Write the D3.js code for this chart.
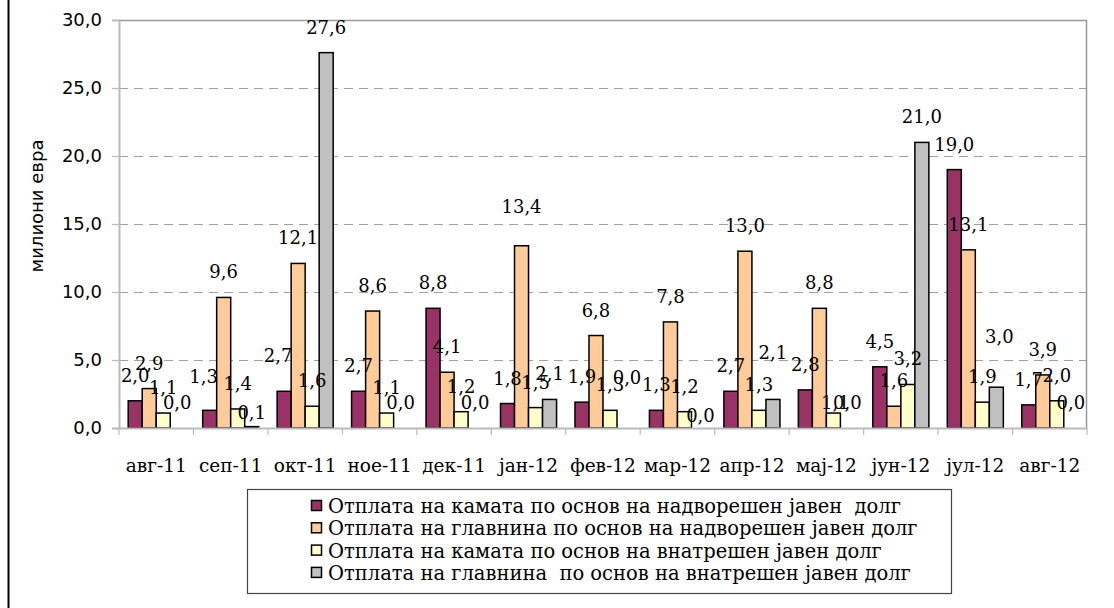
<!DOCTYPE html>
<html><head><meta charset="utf-8">
<script src="https://cdn.jsdelivr.net/npm/d3@7/dist/d3.min.js"></script>
<style>
html,body{margin:0;padding:0;background:#fff;}
svg{display:block;}
</style></head>
<body>
<svg id="chart" width="1114" height="608"></svg>
<script>
const categories = ["авг-11","сеп-11","окт-11","ное-11","дек-11","јан-12","фев-12","мар-12","апр-12","мај-12","јун-12","јул-12","авг-12"];
const seriesNames = [
  "Отплата на камата по основ на надворешен јавен  долг",
  "Отплата на главнина по основ на надворешен јавен долг",
  "Отплата на камата по основ на внатрешен јавен долг",
  "Отплата на главнина  по основ на внатрешен јавен долг"
];
const interestExternal = [2.0,1.3,2.7,2.7,8.8,1.8,1.9,1.3,2.7,2.8,4.5,19.0,1.7];
const principalExternal = [2.9,9.6,12.1,8.6,4.1,13.4,6.8,7.8,13.0,8.8,1.6,13.1,3.9];
const interestDomestic = [1.1,1.4,1.6,1.1,1.2,1.5,1.3,1.2,1.3,1.1,3.2,1.9,2.0];
const principalDomestic = [0.0,0.1,27.6,0.0,0.0,2.1,0.0,0.0,2.1,0.0,21.0,3.0,0.0];
const yTicks = [0,5,10,15,20,25,30];
const yTitle = "милиони евра";

// styling
const colors = ["#993366","#FFCC99","#FFFFCC","#C0C0C0"];
// label nudges (dx,dy) keyed "series:category"
const labelNudge = {"0:1":[-6,-8],"3:1":[0,11],"0:2":[-6,-10],"1:5":[0,-14],"3:6":[3,-25],"3:7":[2,13],"3:8":[0,-21],"2:9":[2,15],"3:11":[3,-25]};

const series = [interestExternal, principalExternal, interestDomestic, principalDomestic];
const svg = d3.select("#chart");
const serif = "'DejaVu Serif', serif";
const sans = "'DejaVu Sans', sans-serif";

const X0 = 119, X1 = 1087, Y0 = 20, Y1 = 428;
const x = d3.scaleBand().domain(categories).range([X0, X1]).padding(0);
const bw = x.bandwidth();
const xs = d3.scaleBand().domain(d3.range(4)).range([bw*0.1236, bw*0.8764]).padding(0);
const y = d3.scaleLinear().domain([0,30]).range([Y1, Y0]);
const fmt = v => d3.format(".1f")(v).replace(".", ",");

// left frame line
svg.append("line").attr("x1",8.5).attr("x2",8.5).attr("y1",0).attr("y2",608).attr("stroke","#000").attr("stroke-width",2);

// gridlines
svg.append("g").selectAll("line").data(yTicks.filter(t => t>0 && t<30)).join("line")
  .attr("x1",X0).attr("x2",X1).attr("y1",d=>Math.round(y(d))+0.5).attr("y2",d=>Math.round(y(d))+0.5)
  .attr("stroke","#a0a0a0").attr("stroke-width",1.2).attr("stroke-dasharray","9,6");

// plot border top/right
svg.append("path").attr("d",`M${X0},${Y0+0.5}H${X1-0.5}V${Y1}`).attr("fill","none").attr("stroke","#999").attr("stroke-width",1.5);

// y axis
const yAxis = svg.append("g").attr("transform",`translate(${X0},0)`)
  .call(d3.axisLeft(y).tickValues(yTicks).tickFormat(fmt).tickSize(7).tickPadding(10));
yAxis.select(".domain").attr("stroke","#bbb").attr("stroke-width",2);
yAxis.selectAll(".tick line").attr("stroke","#bbb").attr("stroke-width",1.2);
yAxis.selectAll("text").attr("font-family",sans).attr("font-size",18).attr("fill","#000");

// bars
const g = svg.append("g");
series.forEach((vals, si) => {
  g.append("g").selectAll("rect").data(vals).join("rect")
    .attr("x",(d,i)=>x(categories[i])+xs(si))
    .attr("width",xs.bandwidth())
    .attr("y",d=>y(d))
    .attr("height",d=>Math.max(0,Y1-y(d)))
    .attr("fill",colors[si]).attr("stroke","#000").attr("stroke-width",1.5);
});

// x axis
const xAxis = svg.append("g").attr("transform",`translate(0,${Y1})`)
  .call(d3.axisBottom(x).tickSize(0).tickPadding(31));
xAxis.select(".domain").attr("stroke","#bbb").attr("stroke-width",2);
xAxis.selectAll("text").attr("font-family",serif).attr("font-size",18.5).attr("fill","#000");
svg.append("g").selectAll("line").data(d3.range(categories.length+1)).join("line")
  .attr("x1",i=>X0+i*bw).attr("x2",i=>X0+i*bw).attr("y1",Y1).attr("y2",Y1+7)
  .attr("stroke","#bbb").attr("stroke-width",1.2);

// data labels
series.forEach((vals, si) => {
  g.append("g").selectAll("text").data(vals).join("text")
    .attr("x",(d,i)=>x(categories[i])+xs(si)+xs.bandwidth()/2 + ((labelNudge[si+":"+i]||[0,0])[0]))
    .attr("y",(d,i)=>y(d)-19 + ((labelNudge[si+":"+i]||[0,0])[1]))
    .attr("text-anchor","middle").attr("font-family",serif).attr("font-size",18).attr("fill","#000")
    .text(d=>fmt(d));
});

// y title
svg.append("text").attr("transform","translate(43,206) rotate(-90)").attr("text-anchor","middle")
  .attr("font-family",sans).attr("font-size",18).attr("fill","#000").text(yTitle);

// legend
const lg = svg.append("g");
lg.append("rect").attr("x",247.5).attr("y",489.5).attr("width",704).attr("height",104)
  .attr("fill","#fff").attr("stroke","#444").attr("stroke-width",1.2);
const rows = lg.selectAll("g.row").data(seriesNames).join("g").attr("class","row")
  .attr("transform",(d,i)=>`translate(311,${506+i*22.3})`);
rows.append("rect").attr("x",0.5).attr("y",-5.5).attr("width",10).attr("height",10)
  .attr("fill",(d,i)=>colors[i]).attr("stroke","#000").attr("stroke-width",1.5);
rows.append("text").attr("x",17).attr("y",7).attr("font-family",serif).attr("font-size",19.5)
  .attr("fill","#000").style("white-space","pre").attr("xml:space","preserve").text(d=>d);
</script>
</body></html>
